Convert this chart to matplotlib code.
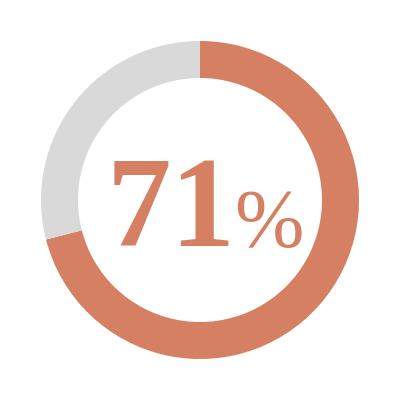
import matplotlib.pyplot as plt

# Anteil in Prozent
share = 71
values = [share, 100 - share]
colors = ['#D68063', '#D9D9D9']

fig = plt.figure(figsize=(4, 4), dpi=100)
ax = fig.add_axes([0, 0, 1, 1])

ax.pie(values, colors=colors, radius=159, startangle=90, counterclock=False,
       wedgeprops=dict(width=37, linewidth=0))

ax.text(36, -46, f"{share}", ha='right', va='baseline', fontsize=93,
        fontweight='bold', family='Liberation Serif', color='#D68063')
ax.text(34, -46, "%", ha='left', va='baseline', fontsize=60,
        fontweight='normal', family='Liberation Serif', color='#D68063')

ax.set_xlim(-200, 200)
ax.set_ylim(-200, 200)
ax.set_aspect('equal')
ax.axis('off')

plt.savefig("out.png", dpi=100)
